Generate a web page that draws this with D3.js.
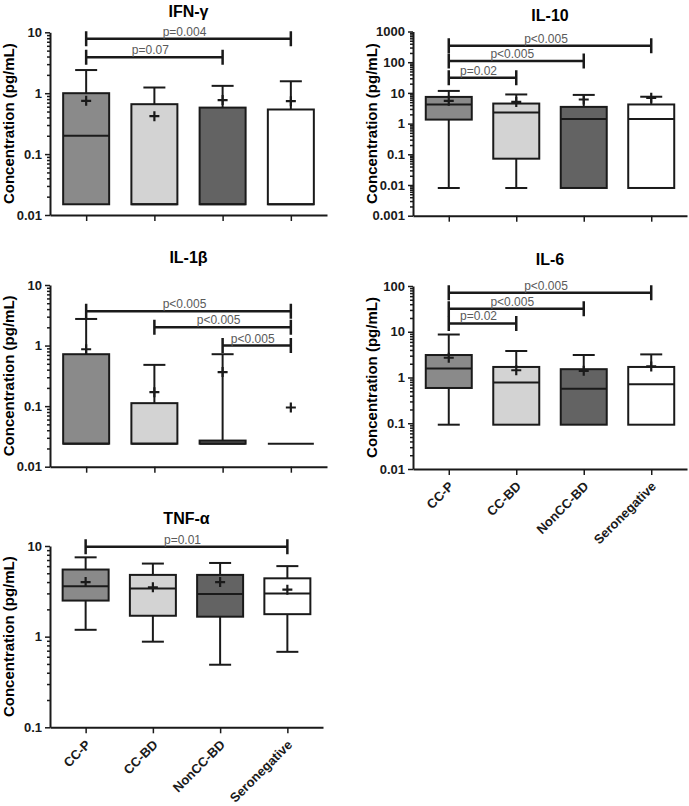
<!DOCTYPE html>
<html>
<head>
<meta charset="utf-8">
<script src="https://cdn.jsdelivr.net/npm/d3@7"></script>
<style>
  body { margin: 0; background: #fff; }
  text { font-family: "Liberation Sans", Arial, sans-serif; }
</style>
</head>
<body>
<script>
const groups = ["CC-P", "CC-BD", "NonCC-BD", "Seronegative"];

// box stats: lo = lower whisker, hi = upper whisker
const ifnG = [
  {g: "CC-P",         lo: 0.015, q1: 0.015, med: 0.2,   q3: 1.0,  hi: 2.4,  mean: 0.75},
  {g: "CC-BD",        lo: 0.015, q1: 0.015, med: 0.015, q3: 0.66, hi: 1.24, mean: 0.42},
  {g: "NonCC-BD",     lo: 0.015, q1: 0.015, med: 0.015, q3: 0.58, hi: 1.32, mean: 0.77},
  {g: "Seronegative", lo: 0.015, q1: 0.015, med: 0.015, q3: 0.54, hi: 1.57, mean: 0.74}
];
const il10 = [
  {g: "CC-P",         lo: 0.008, q1: 1.35,  med: 4.2, q3: 7.4, hi: 11.6, mean: 5.5},
  {g: "CC-BD",        lo: 0.008, q1: 0.072, med: 2.3, q3: 4.5, hi: 8.9,  mean: 5.1},
  {g: "NonCC-BD",     lo: 0.008, q1: 0.008, med: 1.4, q3: 3.5, hi: 8.6,  mean: 6.1},
  {g: "Seronegative", lo: 0.008, q1: 0.008, med: 1.4, q3: 4.2, hi: 7.5,  mean: 6.9}
];
const il1b = [
  {g: "CC-P",         lo: 0.024, q1: 0.024, med: 0.024, q3: 0.72,  hi: 2.75,  mean: 0.87},
  {g: "CC-BD",        lo: 0.024, q1: 0.024, med: 0.024, q3: 0.112, hi: 0.48,  mean: 0.17},
  {g: "NonCC-BD",     lo: 0.024, q1: 0.024, med: 0.024, q3: 0.027, hi: 0.72,  mean: 0.365},
  {g: "Seronegative", lo: 0.024, q1: 0.024, med: 0.024, q3: 0.024, hi: 0.024, mean: 0.095}
];
const il6 = [
  {g: "CC-P",         lo: 0.093, q1: 0.59,  med: 1.57, q3: 3.1, hi: 8.7, mean: 2.7},
  {g: "CC-BD",        lo: 0.093, q1: 0.093, med: 0.78, q3: 1.7, hi: 3.8, mean: 1.44},
  {g: "NonCC-BD",     lo: 0.093, q1: 0.093, med: 0.57, q3: 1.52, hi: 3.1, mean: 1.4},
  {g: "Seronegative", lo: 0.093, q1: 0.093, med: 0.71, q3: 1.7, hi: 3.2, mean: 1.75}
];
const tnfA = [
  {g: "CC-P",         lo: 1.19, q1: 2.5,  med: 3.6,  q3: 5.5, hi: 7.5, mean: 4.0},
  {g: "CC-BD",        lo: 0.88, q1: 1.7,  med: 3.4,  q3: 4.8, hi: 6.4, mean: 3.5},
  {g: "NonCC-BD",     lo: 0.49, q1: 1.66, med: 2.95, q3: 4.8, hi: 6.5, mean: 4.0},
  {g: "Seronegative", lo: 0.68, q1: 1.77, med: 3.0,  q3: 4.4, hi: 6.0, mean: 3.3}
];

// significance brackets (level in pg/mL)
const ifnGP = [
  {from: "CC-P", to: "Seronegative", level: 7.8, label: "p=0.004"},
  {from: "CC-P", to: "NonCC-BD",     level: 3.9, label: "p=0.07"}
];
const il10P = [
  {from: "CC-P", to: "Seronegative", level: 345, label: "p<0.005"},
  {from: "CC-P", to: "NonCC-BD",     level: 110, label: "p<0.005"},
  {from: "CC-P", to: "CC-BD",        level: 31,  label: "p=0.02"}
];
const il1bP = [
  {from: "CC-P",     to: "Seronegative", level: 3.7, label: "p<0.005"},
  {from: "CC-BD",    to: "Seronegative", level: 2.0, label: "p<0.005"},
  {from: "NonCC-BD", to: "Seronegative", level: 1.0, label: "p<0.005"}
];
const il6P = [
  {from: "CC-P", to: "Seronegative", level: 71,   label: "p<0.005"},
  {from: "CC-P", to: "NonCC-BD",     level: 32,   label: "p<0.005"},
  {from: "CC-P", to: "CC-BD",        level: 15.2, label: "p=0.02"}
];
const tnfAP = [
  {from: "CC-P", to: "Seronegative", level: 9.8, label: "p=0.01"}
];

// y tick labels per panel
const ticksIfn  = [0.01, 0.1, 1, 10];
const ticksIl10 = [0.001, 0.01, 0.1, 1, 10, 100, 1000];
const ticksIl1b = [0.01, 0.1, 1, 10];
const ticksIl6  = [0.01, 0.1, 1, 10, 100];
const ticksTnf  = [0.1, 1, 10];

const fills = ["#8a8a8a", "#d3d3d3", "#636363", "#ffffff"];
const ink = "#1a1a1a";

const W = 689, H = 806;
const svg = d3.select("body").append("svg")
  .attr("width", W).attr("height", H);
svg.append("rect").attr("width", W).attr("height", H).attr("fill", "#fff");

const color = d3.scaleOrdinal().domain(groups).range(fills);

function minorTicks(ticks) {
  let out = [];
  for (let i = 0; i < ticks.length - 1; i++) {
    for (let m = 2; m <= 9; m++) out.push(ticks[i] * m);
  }
  return out;
}

function drawPanel(cfg, stats, pvals, ticks) {
  const g = svg.append("g");
  const x = d3.scalePoint().domain(groups).range([cfg.x0, cfg.x1]).padding(0.53);
  const y = d3.scaleLog().domain([ticks[0], ticks[ticks.length - 1]]).range([cfg.yBot, cfg.yTop]);

  // title
  g.append("text")
    .attr("x", (cfg.x0 + cfg.x1) / 2)
    .attr("y", cfg.titleY)
    .attr("text-anchor", "middle")
    .style("font-weight", "bold")
    .style("font-size", "16px")
    .text(cfg.title);

  // y label
  g.append("text")
    .attr("transform", `translate(${cfg.x0 - 36},${(cfg.yTop + cfg.yBot) / 2}) rotate(-90)`)
    .attr("text-anchor", "middle")
    .style("font-weight", "bold")
    .style("font-size", "15px")
    .text("Concentration (pg/mL)");

  // whiskers behind boxes
  const box = g.selectAll(".box").data(stats).enter().append("g");
  box.append("line")
    .attr("x1", d => x(d.g)).attr("x2", d => x(d.g))
    .attr("y1", d => y(d.lo)).attr("y2", d => y(d.hi))
    .attr("stroke", ink).attr("stroke-width", 2);
  box.filter(d => d.hi > d.q3).append("line")
    .attr("x1", d => x(d.g) - 11).attr("x2", d => x(d.g) + 11)
    .attr("y1", d => y(d.hi)).attr("y2", d => y(d.hi))
    .attr("stroke", ink).attr("stroke-width", 2);
  box.filter(d => d.lo < d.q1).append("line")
    .attr("x1", d => x(d.g) - 11).attr("x2", d => x(d.g) + 11)
    .attr("y1", d => y(d.lo)).attr("y2", d => y(d.lo))
    .attr("stroke", ink).attr("stroke-width", 2);
  box.append("rect")
    .attr("x", d => x(d.g) - 23)
    .attr("width", 46)
    .attr("y", d => y(d.q3))
    .attr("height", d => y(d.q1) - y(d.q3))
    .attr("fill", d => color(d.g))
    .attr("stroke", ink).attr("stroke-width", 2);
  box.append("line")
    .attr("x1", d => x(d.g) - 23).attr("x2", d => x(d.g) + 23)
    .attr("y1", d => y(d.med)).attr("y2", d => y(d.med))
    .attr("stroke", ink).attr("stroke-width", 2);
  // mean +
  box.append("path")
    .attr("d", d => `M${x(d.g) - 5},${y(d.mean)}h10M${x(d.g)},${y(d.mean) - 5}v10`)
    .attr("stroke", ink).attr("stroke-width", 2.2);

  // brackets
  const br = g.selectAll(".br").data(pvals).enter().append("g");
  br.append("path")
    .attr("d", d => {
      const a = x(d.from), b = x(d.to), yy = y(d.level);
      return `M${a},${yy}H${b}M${a},${yy - 7.5}v15M${b},${yy - 7.5}v15`;
    })
    .attr("fill", "none").attr("stroke", ink).attr("stroke-width", 2.5);
  br.append("text")
    .attr("x", d => (x(d.from) + x(d.to)) / 2 - 4)
    .attr("y", d => y(d.level) - 3)
    .attr("text-anchor", "middle")
    .attr("fill", "#5a5a5a")
    .style("font-size", "12px")
    .text(d => d.label);

  // axes
  const yAxis = g.append("g").attr("transform", `translate(${cfg.x0},0)`)
    .call(d3.axisLeft(y).tickValues(ticks).tickFormat(d => String(d)).tickSize(5).tickSizeOuter(0));
  g.append("g").attr("transform", `translate(${cfg.x0},0)`)
    .call(d3.axisLeft(y).tickValues(minorTicks(ticks)).tickFormat("").tickSize(3).tickSizeOuter(0))
    .call(a => a.select(".domain").remove());
  yAxis.selectAll("text").style("font-weight", "bold").style("font-size", "13px").attr("fill", ink);

  const xAxis = g.append("g").attr("transform", `translate(0,${cfg.yBot})`)
    .call(d3.axisBottom(x).tickSize(6).tickSizeOuter(0).tickFormat(cfg.labels ? d => d : ""));
  if (cfg.labels) {
    xAxis.selectAll("text")
      .attr("x", 0).attr("y", 0).attr("dy", "0.35em")
      .attr("transform", "translate(2,15) rotate(-45)")
      .style("text-anchor", "end")
      .style("font-weight", "bold")
      .style("font-size", "13px")
      .attr("fill", ink);
  }
  g.selectAll(".domain").attr("stroke", ink).attr("stroke-width", 2);
  g.selectAll(".tick line").attr("stroke", ink).attr("stroke-width", 1.5);
}

drawPanel({title: "IFN-\u03b3", x0: 50, x1: 327, yTop: 32.3, yBot: 215, titleY: 17}, ifnG, ifnGP, ticksIfn);
drawPanel({title: "IL-10", x0: 413, x1: 687, yTop: 31.5, yBot: 215.7, titleY: 21}, il10, il10P, ticksIl10);
drawPanel({title: "IL-1\u03b2", x0: 50, x1: 327, yTop: 285, yBot: 466.7, titleY: 263}, il1b, il1bP, ticksIl1b);
drawPanel({title: "IL-6", x0: 413, x1: 687, yTop: 286, yBot: 469, titleY: 265, labels: true}, il6, il6P, ticksIl6);
drawPanel({title: "TNF-\u03b1", x0: 50, x1: 323, yTop: 546, yBot: 727.3, titleY: 524, labels: true}, tnfA, tnfAP, ticksTnf);
</script>
</body>
</html>
